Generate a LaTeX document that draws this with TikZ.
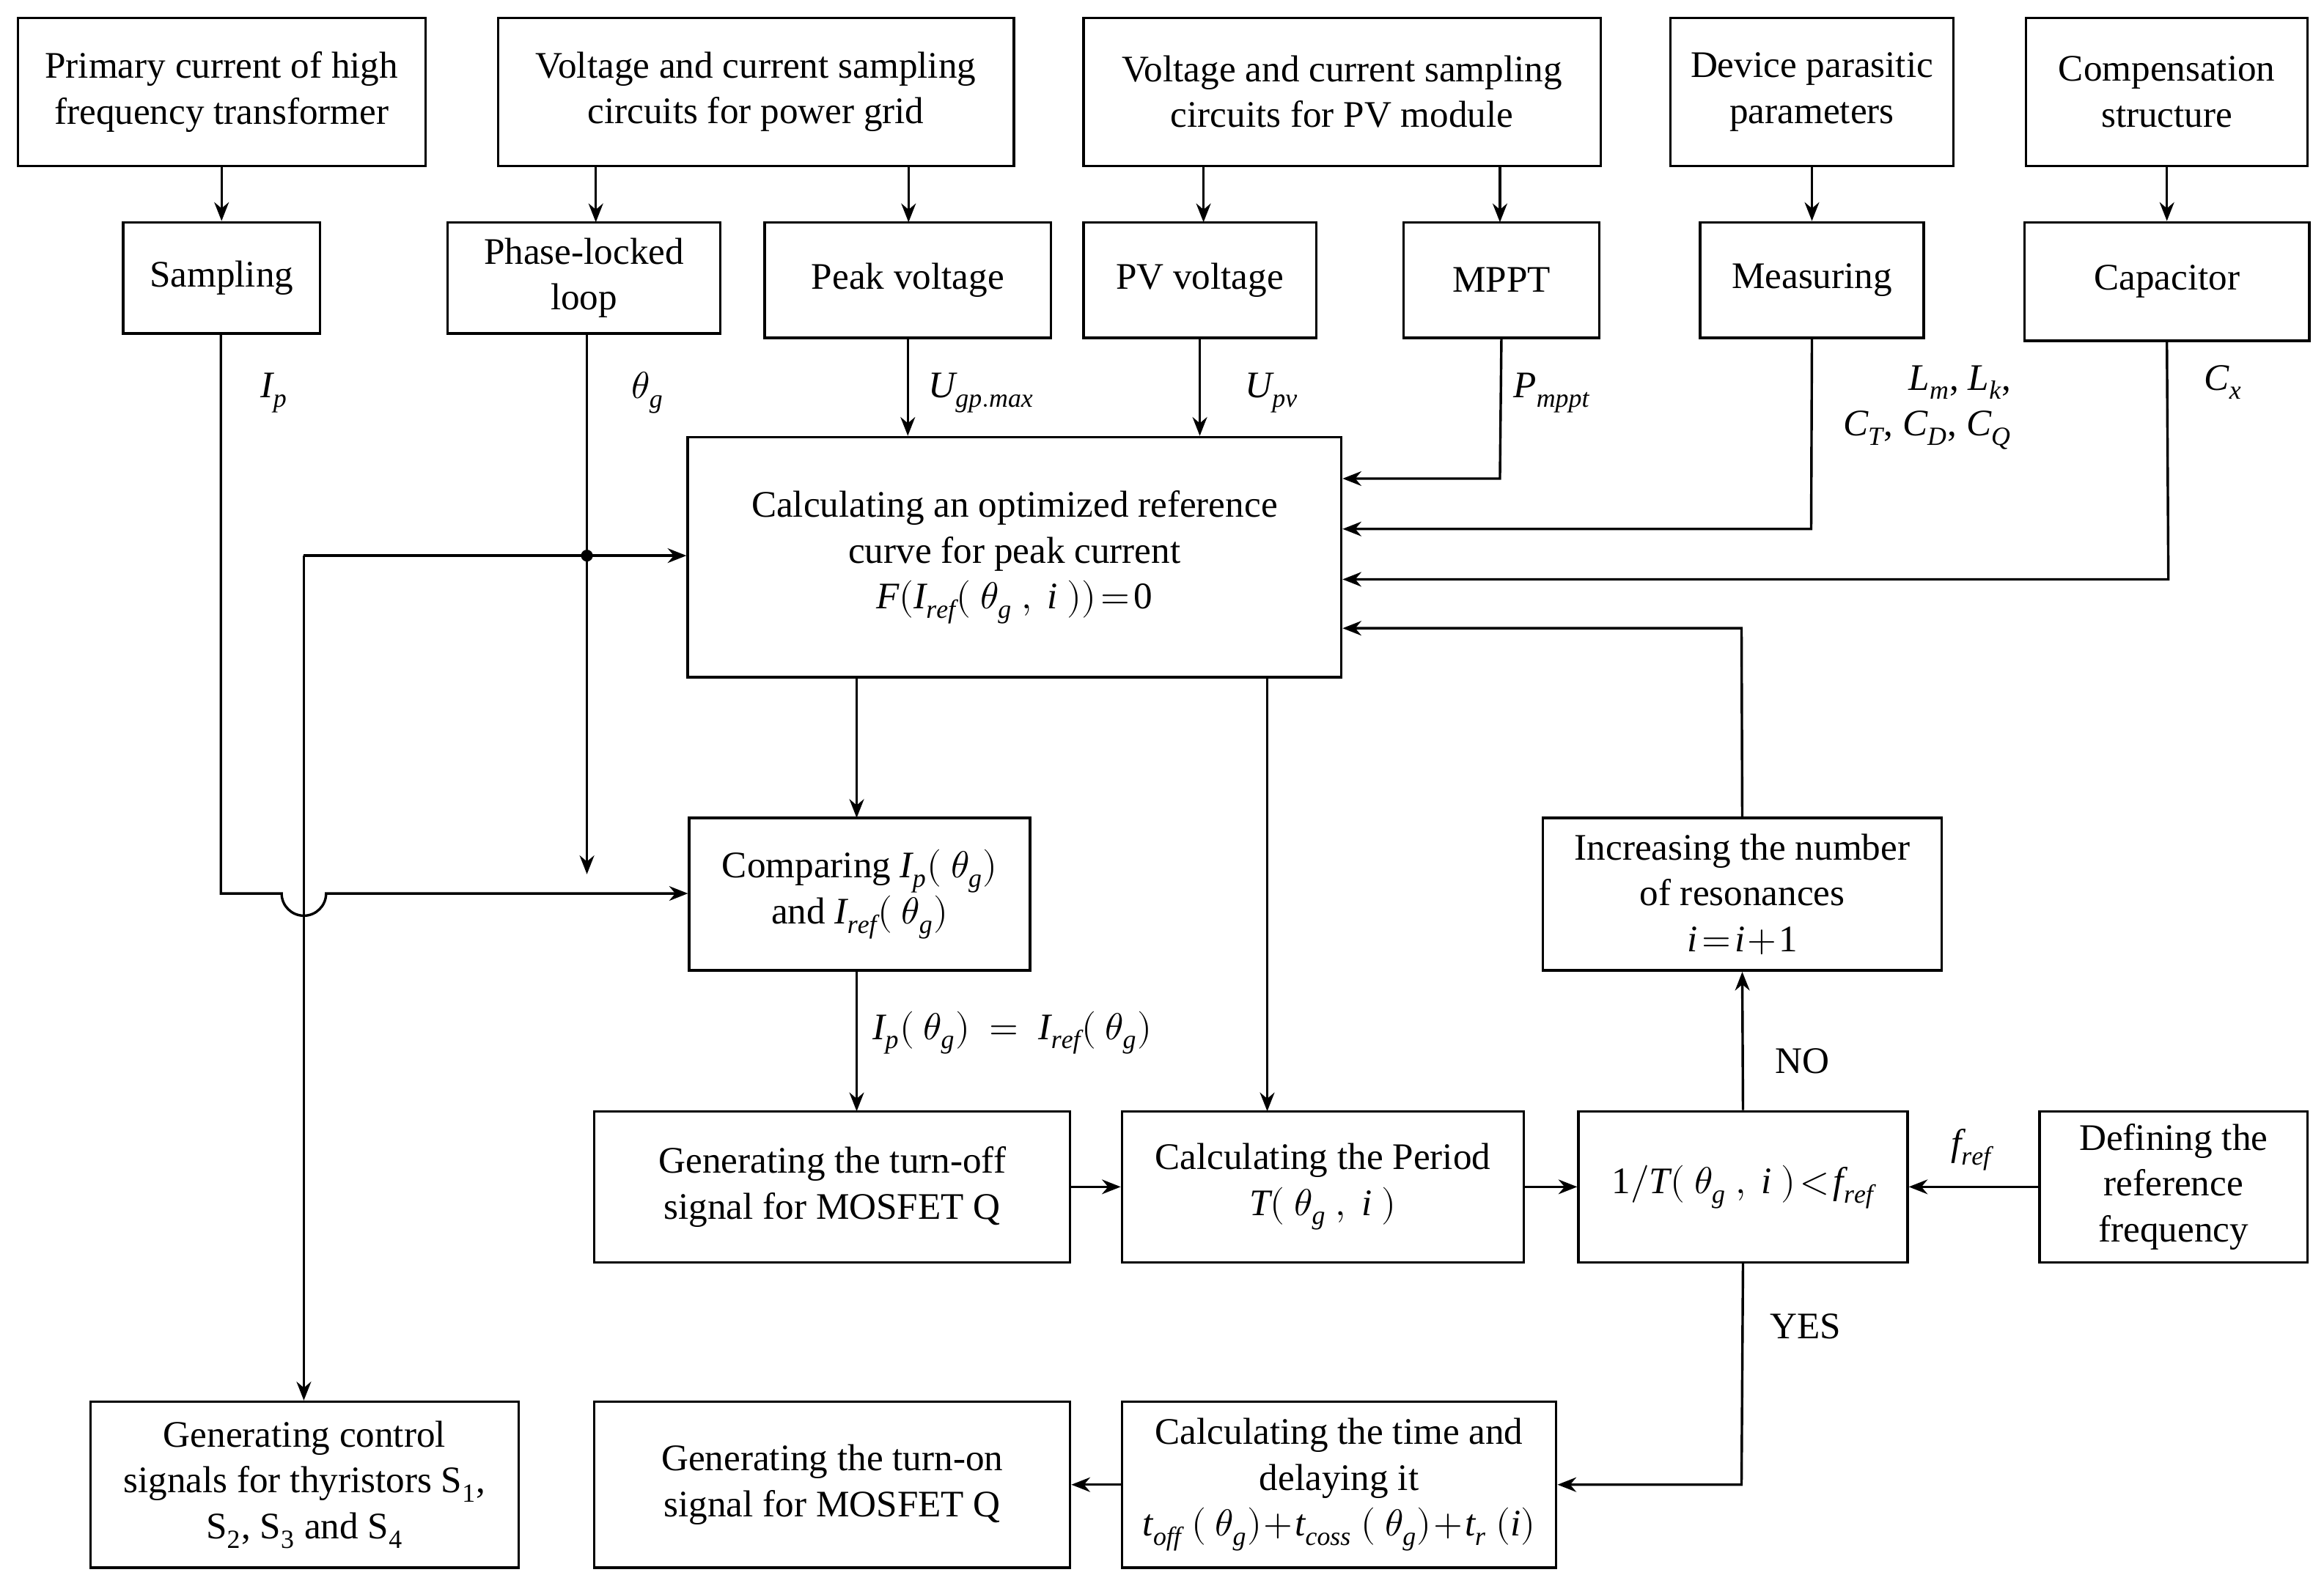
\documentclass[tikz,border=0pt]{standalone}
\usepackage{fontspec}
\setmainfont{Liberation Serif}
\usepackage{unicode-math}
\setmathfont{Latin Modern Math}
\setmathfont[range={up/{latin,Latin,num}}]{Liberation Serif}
\setmathfont[range={it/{latin,Latin}}]{Liberation Serif Italic}
\usetikzlibrary{arrows.meta}
\begin{document}
\begin{tikzpicture}[x=0.025cm,y=-0.025cm,
 box/.style={draw,line width=1.2pt,align=center,font=\fontsize{18}{22}\selectfont,inner sep=0pt},
 lab/.style={font=\fontsize{18}{22}\selectfont,align=left},
 ar/.style={line width=1.2pt,-{Stealth[length=9pt,width=7pt]}},
 ln/.style={line width=1.2pt}]
\useasboundingbox (0,0) rectangle (1568,1070);
\newcommand{\bx}[6]{\node[box,minimum width=#4*0.025cm-#2*0.025cm,minimum height=#5*0.025cm-#3*0.025cm] (#1) at ({(#2+#4)/2},{(#3+#5)/2}) {#6};}
\bx{prim}{12}{12}{287}{112}{Primary current of high\\frequency transformer}
\bx{grid}{336}{12}{684}{112}{Voltage and current sampling\\circuits for power grid}
\bx{pvc}{731}{12}{1080}{112}{Voltage and current sampling\\circuits for PV module}
\bx{dev}{1127}{12}{1318}{112}{Device parasitic\\parameters}
\bx{comp}{1367}{12}{1557}{112}{Compensation\\structure}
\bx{samp}{83}{150}{216}{225}{Sampling}
\bx{pll}{302}{150}{486}{225}{Phase-locked\\loop}
\bx{peak}{516}{150}{709}{228}{Peak voltage}
\bx{pvv}{731}{150}{888}{228}{PV voltage}
\bx{mppt}{947}{150}{1079}{228}{MPPT}
\bx{meas}{1147}{150}{1298}{228}{Measuring}
\bx{cap}{1366}{150}{1558}{230}{Capacitor}
\bx{calc}{464}{295}{905}{457}{Calculating an optimized reference\\curve for peak current\\$F(I_{ref}(\ \theta_g\ ,\ i\ ))\!=\!0$}
\bx{cmp}{465}{552}{695}{655}{Comparing $I_p(\ \theta_g)$\\and $I_{ref}(\ \theta_g)$}
\bx{inc}{1041}{552}{1310}{655}{Increasing the number\\of resonances\\$i\!=\!i\!+\!1$}
\bx{off}{401}{750}{722}{852}{Generating the turn-off\\signal for MOSFET Q}
\bx{per}{757}{750}{1028}{852}{Calculating the Period\\$T(\ \theta_g\ ,\ i\ )$}
\bx{cond}{1065}{750}{1287}{852}{$1/T(\ \theta_g\ ,\ i\ )\!<\!f_{ref}$}
\bx{def}{1376}{750}{1557}{852}{Defining the\\reference\\frequency}
\bx{ctrl}{61}{946}{350}{1058}{Generating control\\signals for thyristors S$_1$,\\S$_2$, S$_3$ and S$_4$}
\bx{on}{401}{946}{722}{1058}{Generating the turn-on\\signal for MOSFET Q}
\bx{tim}{757}{946}{1050}{1058}{Calculating the time and\\delaying it\\$t_{off}\ (\ \theta_g)\!+\!t_{coss}\ (\ \theta_g)\!+\!t_r\ (i)$}
% top arrows
\draw[ar] (prim.south -| samp) -- (samp.north);
\draw[ar] (402,112) -- (402,150);
\draw[ar] (613,112) -- (613,150);
\draw[ar] (812,112) -- (812,150);
\draw[ar] (1012,112) -- (1012,150);
\draw[ar] (dev.south -| meas) -- (meas.north);
\draw[ar] (comp.south -| cap) -- (cap.north);
% sampling line with hop
\draw[ar] (149,225) -- (149,603) -- (190,603) arc[start angle=180,end angle=0,radius=15] -- (cmp.west |- 0,603);
% PLL
\draw[ar] (396,225) -- (396,590);
\fill (396,375) circle (4);
\draw[ar] (205,375) -- (calc.west |- 0,375);
\draw[ar] (205,375) -- (ctrl.north -| 205,0);
% into calc
\draw[ar] (peak.south) -- (calc.north -| peak);
\draw[ar] (pvv.south) -- (calc.north -| pvv);
\draw[ar] (mppt.south) -- (1012,323) -- (calc.east |- 0,323);
\draw[ar] (meas.south) -- (1222,357) -- (calc.east |- 0,357);
\draw[ar] (cap.south) -- (1463,391) -- (calc.east |- 0,391);
\draw[ar] (inc.north) -- (1175,424) -- (calc.east |- 0,424);
% lower
\draw[ar] (578,457) -- (578,552);
\draw[ar] (855,457) -- (855,750);
\draw[ar] (578,655) -- (578,750);
\draw[ar] (off.east) -- (per.west);
\draw[ar] (per.east) -- (cond.west);
\draw[ar] (def.west) -- (cond.east);
\draw[ar] (cond.north) -- (inc.south);
\draw[ar] (cond.south) -- (1175,1002) -- (tim.east |- 0,1002);
\draw[ar] (tim.west) -- (on.east);
% labels
\node[lab] (l1) at (185,265) {$I_p$};
\node[lab] (l2) at (437,265) {$\theta_g$};
\node[lab] (l3) at (662,265) {$U_{gp.max}$};
\node[lab] (l4) at (858,265) {$U_{pv}$};
\node[lab] (l5) at (1047,265) {$P_{mppt}$};
\node[lab,align=right,anchor=east] (l6) at (1362,275) {$L_m$, $L_k$,\\$C_T$, $C_D$, $C_Q$};
\node[lab] (l7) at (1500,258) {$C_x$};
\node[lab] (l8) at (683,697) {$I_p(\ \theta_g)\ =\ I_{ref}(\ \theta_g)$};
\node[lab] (l9) at (1216,716) {NO};
\node[lab] (l10) at (1218,895) {YES};
\node[lab] (l11) at (1330,776) {$f_{ref}$};
\end{tikzpicture}
\end{document}
